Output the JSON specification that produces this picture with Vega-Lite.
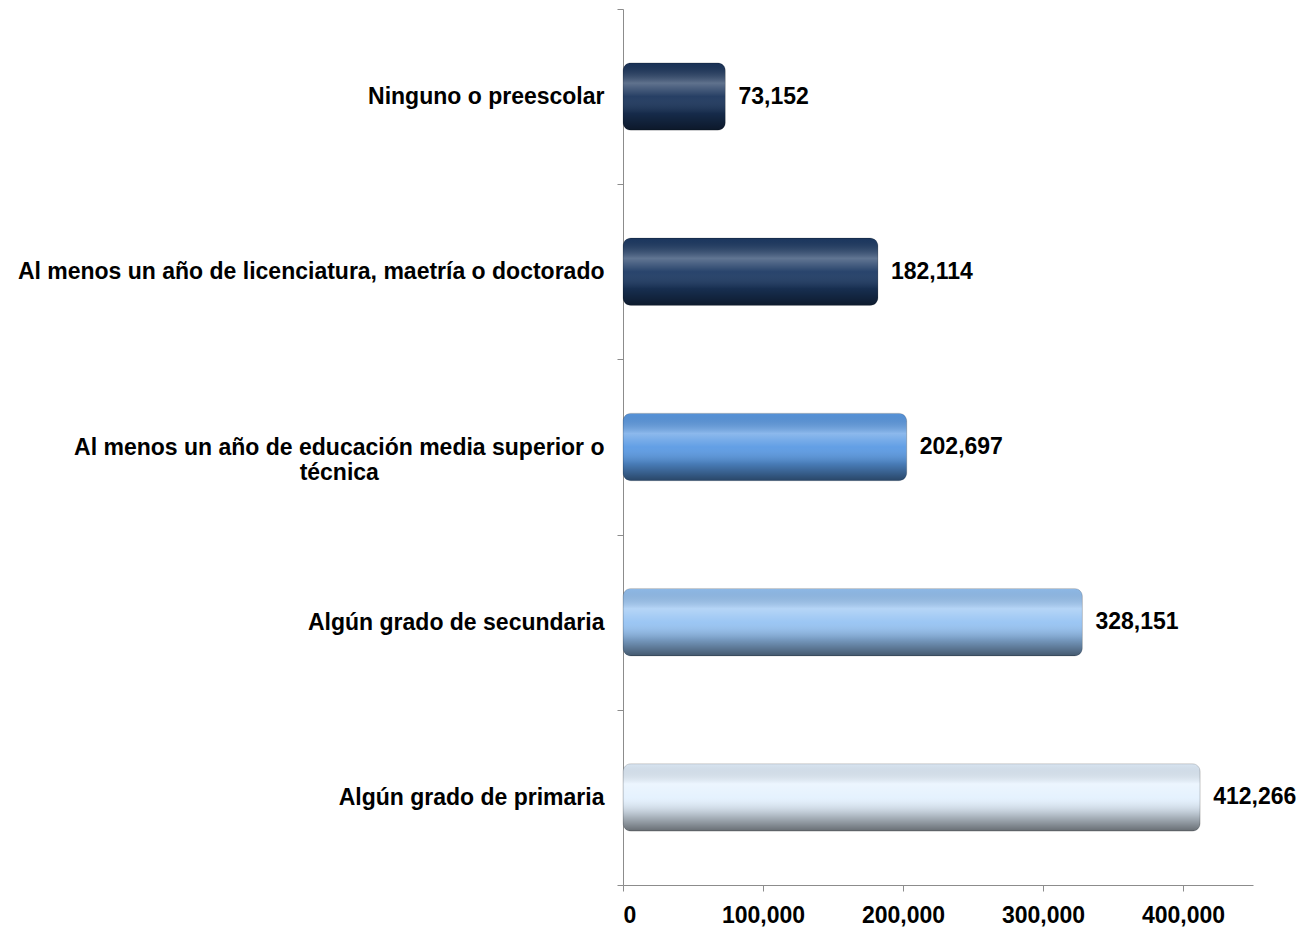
{
  "$schema": "https://vega.github.io/schema/vega-lite/v6.json",
  "autosize": "none",
  "width": 630,
  "height": 876,
  "padding": {"left": 623, "top": 9, "right": 56, "bottom": 44},
  "background": "white",
  "config": {
    "view": {"stroke": null},
    "font": "Liberation Sans"
  },
  "data": {
    "values": [
      {"nivel": "Ninguno o preescolar", "personas": 73152, "grupo": "a"},
      {"nivel": "Al menos un año de licenciatura, maetría o doctorado", "personas": 182114, "grupo": "b"},
      {"nivel": "Al menos un año de educación media superior o técnica", "personas": 202697, "grupo": "c"},
      {"nivel": "Algún grado de secundaria", "personas": 328151, "grupo": "d"},
      {"nivel": "Algún grado de primaria", "personas": 412266, "grupo": "e"}
    ]
  },
  "encoding": {
    "y": {
      "field": "nivel",
      "type": "nominal",
      "sort": null,
      "title": null,
      "scale": {"paddingInner": 0, "paddingOuter": 0},
      "axis": {
        "domainColor": "#8c8c8c",
        "tickColor": "#8c8c8c",
        "tickSize": 6,
        "tickBand": "extent",
        "labelFont": "Liberation Sans",
        "labelFontSize": 23,
        "labelFontWeight": "bold",
        "labelColor": "#000000",
        "labelPadding": 13,
        "labelLimit": 800,
        "labelLineHeight": 25,
        "labelExpr": "datum.value == 'Al menos un año de educación media superior o técnica' ? ['Al menos un año de educación media superior o', 'técnica\u2009\u2800\u2800\u2800\u2800\u2800\u2800\u2800\u2800\u2800\u2800\u2800\u2800\u2800'] : datum.value"
      }
    },
    "x": {
      "field": "personas",
      "type": "quantitative",
      "title": null,
      "scale": {"domain": [0, 450000], "nice": false},
      "axis": {
        "values": [0, 100000, 200000, 300000, 400000],
        "format": ",d",
        "grid": false,
        "domainColor": "#8c8c8c",
        "tickColor": "#8c8c8c",
        "tickSize": 6,
        "labelFont": "Liberation Sans",
        "labelFontSize": 23,
        "labelFontWeight": "bold",
        "labelColor": "#000000",
        "labelPadding": 13
      }
    }
  },
  "layer": [
    {
      "mark": {"type": "bar", "cornerRadius": 8, "height": {"band": 0.385}},
      "encoding": {
        "color": {
          "field": "grupo",
          "type": "nominal",
          "legend": null,
          "scale": {
            "domain": ["a", "b", "c", "d", "e"],
            "range": ["#1b355c", "#1d3a64", "#5a9ae4", "#96c3f3", "#e4f1fe"]
          }
        }
      }
    },
    {
      "mark": {
        "type": "bar",
        "cornerRadius": 8,
        "height": {"band": 0.385},
        "color": {
          "gradient": "linear",
          "x1": 0, "y1": 0, "x2": 0, "y2": 1,
          "stops": [
            {"offset": 0, "color": "rgba(0,0,0,0.05)"},
            {"offset": 0.3, "color": "rgba(255,255,255,0.3)"},
            {"offset": 0.5, "color": "rgba(255,255,255,0.05)"},
            {"offset": 0.75, "color": "rgba(0,0,0,0.2)"},
            {"offset": 1, "color": "rgba(0,0,0,0.55)"}
          ]
        },
        "stroke": "rgba(0,0,0,0.15)",
        "strokeWidth": 1
      },
      "encoding": {}
    },
    {
      "mark": {
        "type": "text",
        "align": "left",
        "baseline": "middle",
        "dx": 13,
        "font": "Liberation Sans",
        "fontSize": 23,
        "fontWeight": "bold",
        "color": "#000000"
      },
      "encoding": {
        "text": {"field": "personas", "type": "quantitative", "format": ",d"}
      }
    }
  ]
}
